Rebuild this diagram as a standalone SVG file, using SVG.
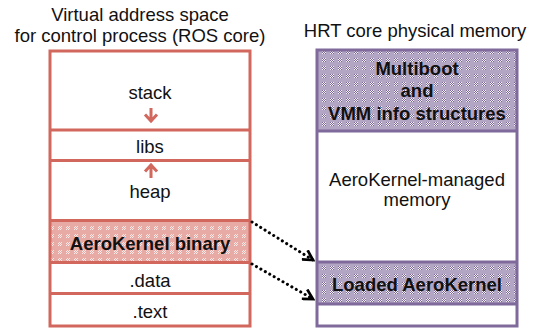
<svg xmlns="http://www.w3.org/2000/svg" width="540" height="331" viewBox="0 0 540 331">
<style>
text{font-family:"Liberation Sans",Arial,sans-serif;font-size:18.5px;fill:#111;text-anchor:middle}
.b{font-weight:bold}
.red{stroke:#d2675d;stroke-width:3;fill:none}
.pur{stroke:#7f6a9b;stroke-width:3;fill:none}
.conn{stroke:#000;stroke-width:3;stroke-dasharray:0.1 5;stroke-linecap:round;fill:none}
.ra{stroke:#d2675d;stroke-width:3;fill:none}
</style>
<defs>
<pattern id="pr" width="8" height="8" patternUnits="userSpaceOnUse">
<rect width="8" height="8" fill="#e8aaa5"/>
<path d="M3 2h1v1h-1zM5 2h1v1h-1zM2 3h1v1h-1zM4 3h1v1h-1zM3 4h1v1h-1zM5 4h1v1h-1zM2 5h1v1h-1zM4 5h1v1h-1z" fill="#fbeaea"/>
</pattern>
<pattern id="pp" width="8" height="8" patternUnits="userSpaceOnUse">
<rect width="8" height="8" fill="#b2a6c4"/>
<path d="M3 2h1v1h-1zM5 2h1v1h-1zM2 3h1v1h-1zM4 3h1v1h-1zM3 4h1v1h-1zM5 4h1v1h-1zM2 5h1v1h-1zM4 5h1v1h-1z" fill="#f4f1f8"/>
<path d="M2 2h1v1h-1zM4 2h1v1h-1zM3 3h1v1h-1zM5 3h1v1h-1zM2 4h1v1h-1zM4 4h1v1h-1zM3 5h1v1h-1zM5 5h1v1h-1z" fill="#7a6896"/>
</pattern>
<marker id="ah" viewBox="0 0 12 12" refX="10" refY="6" markerWidth="13" markerHeight="13" markerUnits="userSpaceOnUse" orient="auto">
<path d="M1 1L10 6L1 11" fill="none" stroke="#000" stroke-width="2.5" stroke-linejoin="miter"/>
</marker>
</defs>

<text x="140" y="21">Virtual address space</text>
<text x="140" y="42">for control process (ROS core)</text>
<text x="415" y="37">HRT core physical memory</text>

<g id="vas">
<rect x="50" y="220.5" width="200" height="42" fill="url(#pr)"/>
<rect class="red" x="50" y="51" width="200" height="275"/>
<line class="red" x1="50" y1="130" x2="250" y2="130"/>
<line class="red" x1="50" y1="160.5" x2="250" y2="160.5"/>
<line class="red" x1="50" y1="220.5" x2="250" y2="220.5"/>
<line class="red" x1="50" y1="262.5" x2="250" y2="262.5"/>
<line class="red" x1="50" y1="293.5" x2="250" y2="293.5"/>
</g>
<g id="stack"><text x="150" y="99">stack</text>
<path class="ra" d="M151 108V121M145 114.5L151 121L157 114.5"/></g>
<g id="libs"><text x="150" y="153">libs</text></g>
<g id="heap"><text x="150" y="198">heap</text>
<path class="ra" d="M151 178V165M145 171.5L151 165L157 171.5"/></g>
<g id="akbin"><text class="b" x="150" y="250">AeroKernel binary</text></g>
<g id="data"><text x="150" y="287">.data</text></g>
<g id="textseg"><text x="150" y="318">.text</text></g>

<g id="phys">
<rect x="317" y="50" width="200" height="81" fill="url(#pp)"/>
<rect x="317" y="262" width="200" height="42" fill="url(#pp)"/>
<rect class="pur" x="317" y="50" width="200" height="276"/>
<line class="pur" x1="317" y1="131" x2="517" y2="131"/>
<line class="pur" x1="317" y1="262" x2="517" y2="262"/>
<line class="pur" x1="317" y1="304" x2="517" y2="304"/>
</g>
<g id="multiboot"><text class="b" x="417" y="75">Multiboot</text>
<text class="b" x="417" y="97">and</text>
<text class="b" x="417" y="120">VMM info structures</text></g>
<g id="managed"><text x="417" y="186">AeroKernel-managed</text>
<text x="417" y="206">memory</text></g>
<g id="loaded"><text class="b" x="417" y="291">Loaded AeroKernel</text></g>

<g id="connectors">
<line class="conn" x1="252" y1="222" x2="313" y2="260" marker-end="url(#ah)"/>
<line class="conn" x1="252" y1="264" x2="313" y2="299" marker-end="url(#ah)"/>
</g>
</svg>
